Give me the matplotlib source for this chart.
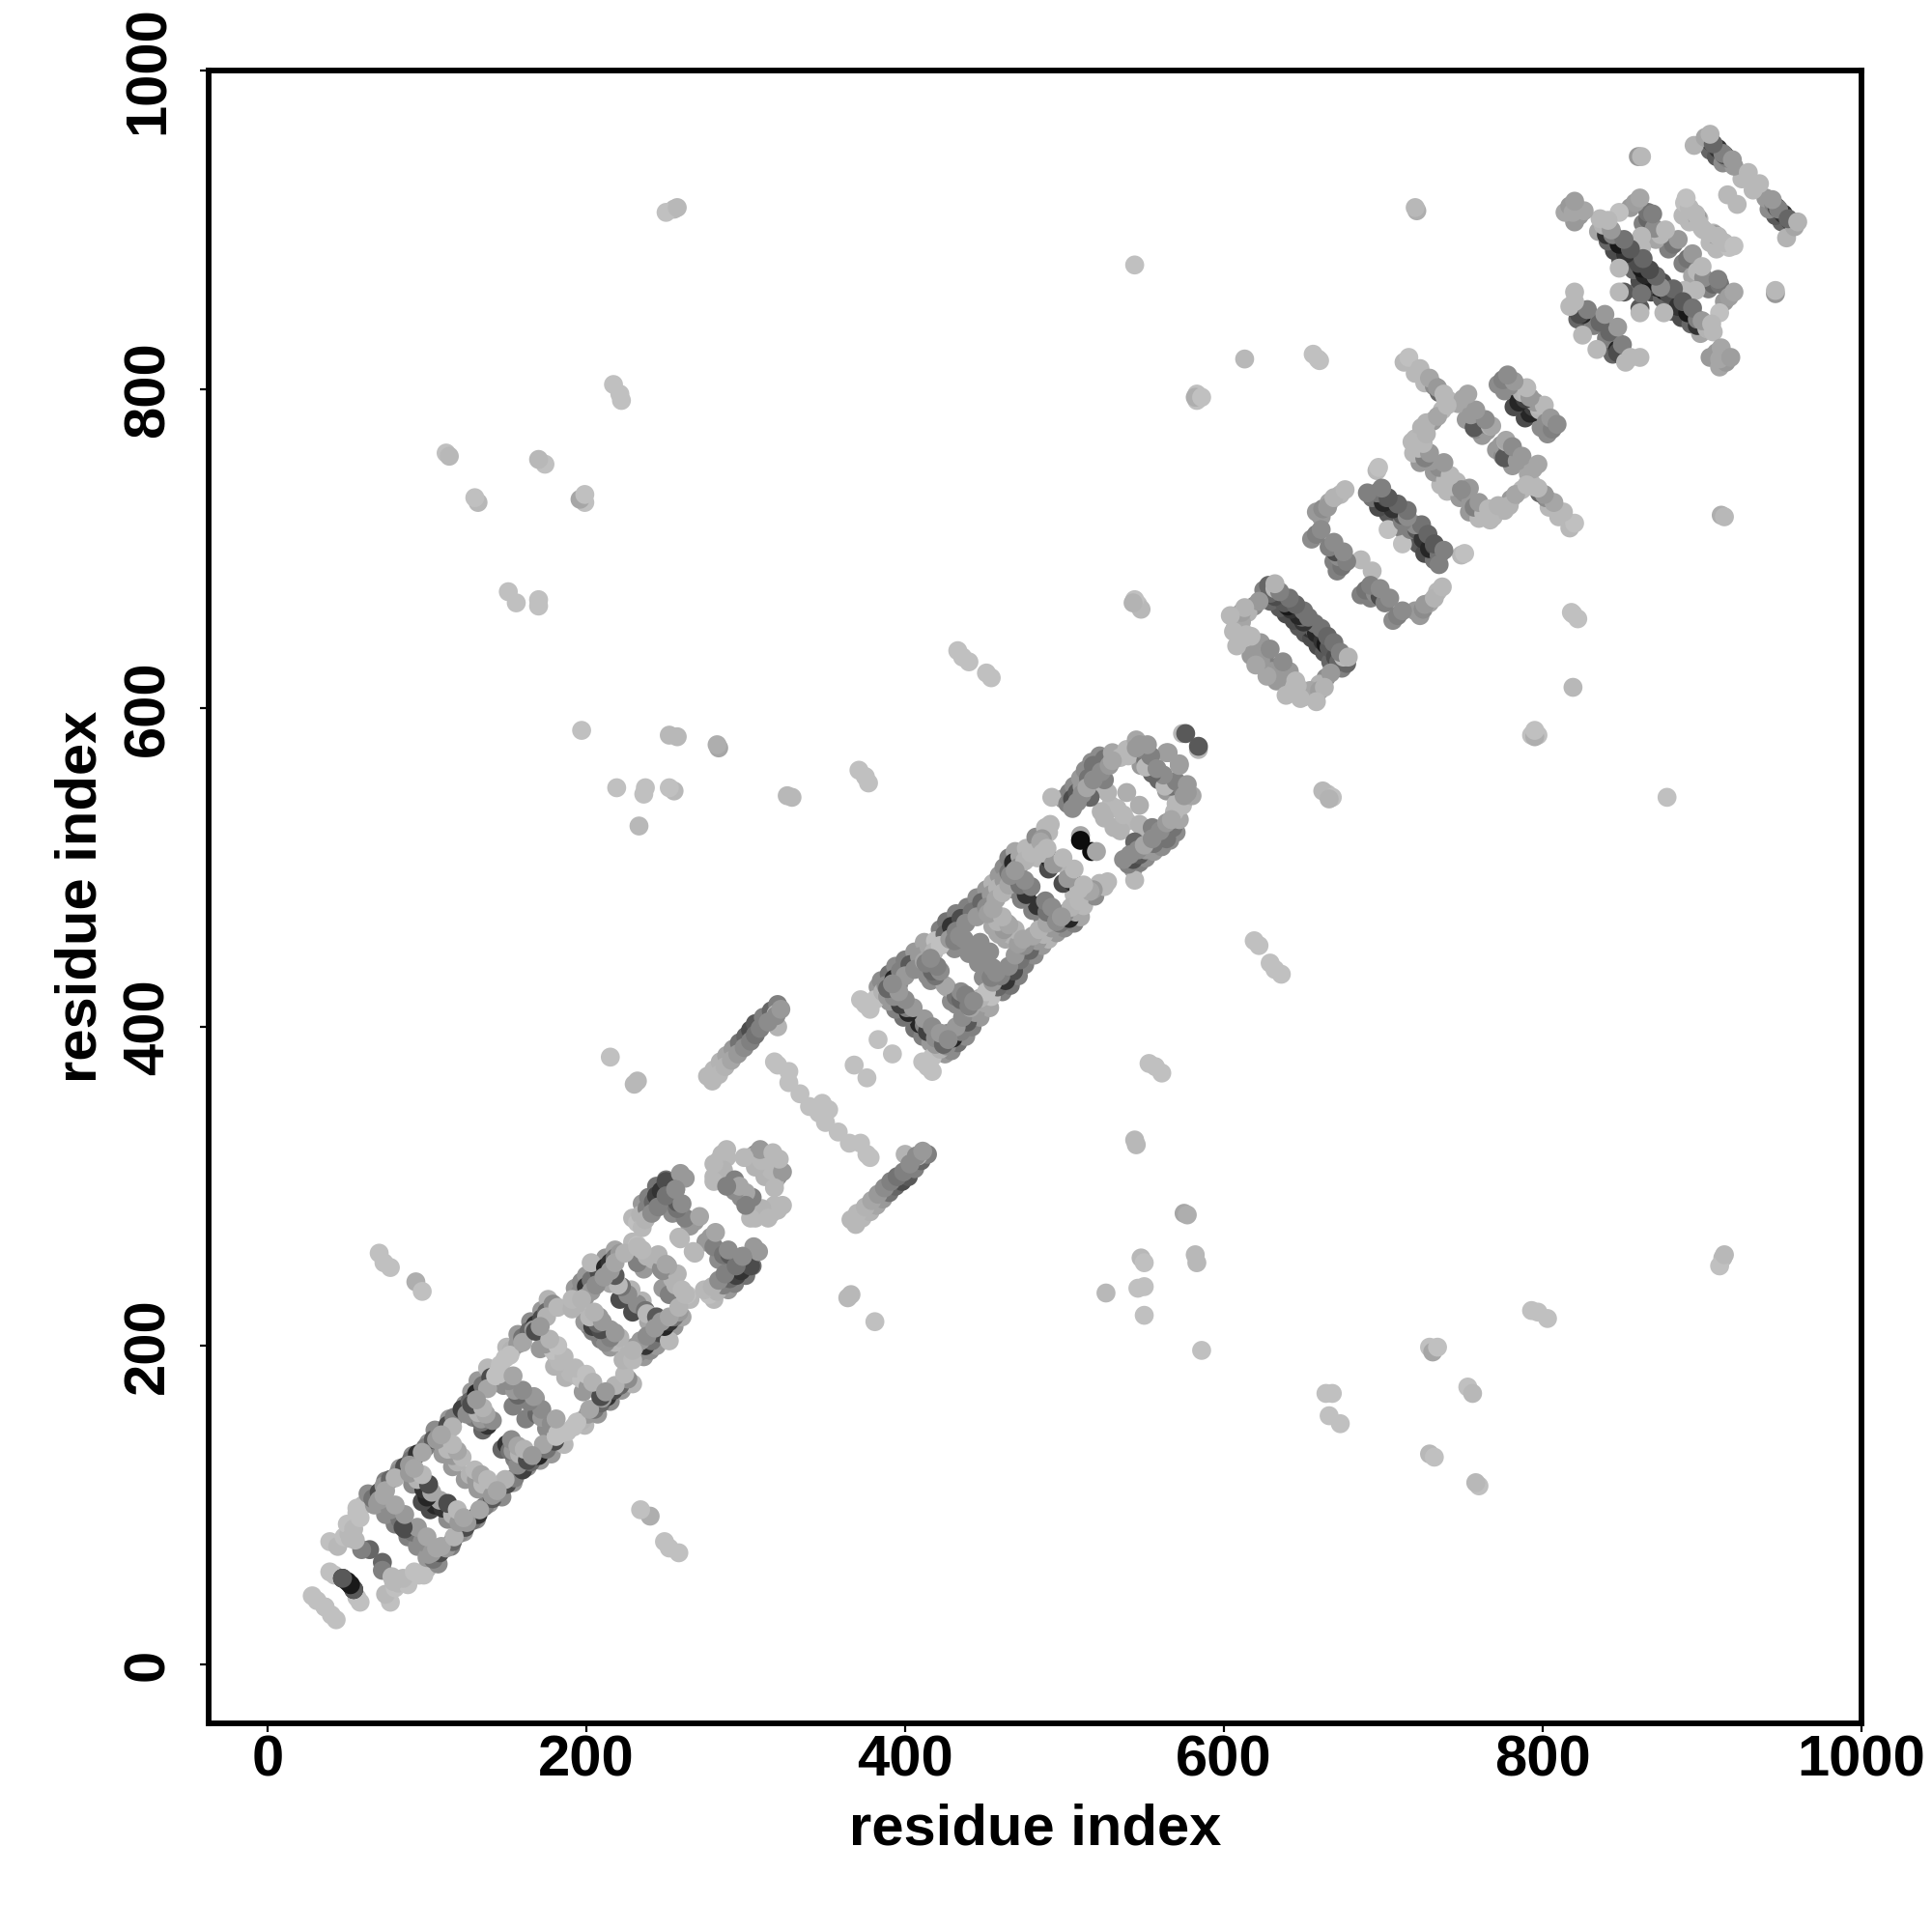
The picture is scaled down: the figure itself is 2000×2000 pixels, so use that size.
import numpy as np
import matplotlib
matplotlib.use("Agg")
import matplotlib.pyplot as plt

plt.rcParams["font.family"] = ["Liberation Sans", "DejaVu Sans"]
plt.rcParams["font.weight"] = "bold"

# the map is symmetric so the other half is the same contacts swapped
start = [(40, 31, .75), (43, 28, .75), (36, 36, .75), (58, 39, .75), (56, 42, .75), (50, 52, .1),
         (54, 47, .1), (54, 47, .35), (77, 39, .75), (74, 44, .72), (80, 48, .75), (72, 64, .4),
         (72, 59, .5), (78, 55, .72), (82, 51, .72), (88, 50, .75), (95, 56, .75), (100, 60, .72),
         (79, 52, .72), (98, 56, .75), (85, 54, .72), (92, 58, .75)]
under_1 = [(107, 63, .55), (115, 74, .5), (123, 83, .6), (131, 91, .55), (139, 101, .6), (147, 105, .55),
           (154, 114, .6), (163, 124, .55), (171, 128, .6), (178, 132, .6), (186, 138, .72), (199, 150, .72),
           (207, 157, .6), (215, 165, .55), (222, 172, .6), (229, 176, .7),
           (88, 80, .5), (94, 74, .55), (100, 67, .6), (102, 97, .3), (113, 91, .55), (124, 116, .6),
           (132, 110, .6), (147, 135, .4), (155, 129, .5), (162, 154, .5), (175, 148, .55), (187, 180, .7),
           (198, 171, .6)]
rail_1 = [(104, 66, .45), (108, 70, .3), (112, 73, .6), (116, 77, .4), (120, 82, .55),
          (124, 86, .3), (128, 90, .45), (132, 94, .2), (136, 99, .5),
          (141, 104, .35), (146, 108, .55), (150, 113, .3), (155, 117, .5),
          (160, 122, .25), (165, 127, .4), (170, 131, .15), (175, 135, .45),
          (180, 140, .3), (184, 145, .75), (188, 146, .75), (192, 149, .75), (197, 153, .7),
          (201, 157, .6), (205, 160, .45), (209, 164, .4), (213, 168, .2), (217, 172, .3),
          (221, 175, .4), (226, 179, .55)]
over_1 = [(101, 69, .6), (109, 74, .65), (117, 80, .7), (125, 89, .6), (133, 97, .65), (141, 107, .6),
          (149, 116, .7), (157, 125, .55), (165, 130, .6), (173, 138, .65), (181, 143, .75), (194, 152, .75),
          (202, 160, .65), (210, 167, .6), (218, 175, .7), (224, 182, .72)]
rungs_1 = [(91, 83, .45), (86, 85, .3), (97, 77, .55), (103, 70, .6), (105, 100, .15), (110, 98, .2),
           (116, 94, .7), (120, 89, .6), (127, 119, .7), (131, 116, .6), (135, 113, .72),
           (141, 106, .6), (150, 138, .2), (152, 134, .45), (154, 134, .6), (158, 132, .7), (163, 128, .3),
           (165, 164, .5), (169, 157, .4), (172, 155, .6), (178, 151, .55), (182, 145, .75),
           (190, 183, .72), (194, 181, .72), (197, 179, .75), (201, 174, .6), (209, 168, .3)]
rungs_1_top = [(94, 86, .6), (100, 80, .65), (106, 73, .65), (108, 103, .65), (113, 101, .3), (119, 97, .72),
               (123, 92, .65), (130, 122, .72), (134, 119, .65), (138, 116, .72), (144, 109, .65),
               (153, 141, .55), (157, 137, .65), (161, 135, .7), (166, 131, .6), (168, 167, .6),
               (172, 160, .55), (181, 154, .65), (193, 186, .72), (200, 182, .75), (204, 177, .7),
               (212, 171, .6)]
block_2 = [(236, 193, .6), (240, 197, .55), (244, 200, .6), (249, 205, .6), (255, 212, .6), (260, 218, .65),
           (202, 212, .55), (209, 204, .5), (215, 199, .6), (223, 191, .7), (248, 236, .6), (252, 232, .5),
           (233, 196, .55), (237, 200, .2), (241, 203, .45), (246, 208, .3), (252, 203, .72), (249, 212, .15),
           (252, 215, .2), (255, 218, .45), (258, 221, .6), (265, 229, .72), (263, 232, .75),
           (254, 242, .7), (256, 238, .7), (248, 247, .55), (205, 215, .5), (212, 204, .25), (210, 209, .3),
           (214, 207, .4), (218, 202, .72), (226, 194, .7), (229, 191, .72), (235, 228, .7), (229, 221, .3),
           (239, 215, .65), (232, 226, .55), (237, 222, .45), (238, 220, .72), (244, 218, .35),
           (230, 199, .6), (234, 203, .6), (238, 206, .55), (243, 211, .6), (247, 215, .6), (252, 218, .65),
           (258, 224, .7), (262, 232, .72), (208, 218, .6), (215, 210, .6), (221, 205, .7), (229, 197, .7),
           (257, 245, .7), (251, 250, .65), (260, 235, .72)]
block_3 = [(280, 229, .72), (289, 235, .6), (293, 239, .5), (300, 244, .45), (304, 250, .45),
           (275, 265, .6), (283, 254, .55), (292, 250, .5),
           (277, 232, .75), (282, 234, .7), (286, 238, .5), (290, 242, .4), (294, 244, .25), (297, 247, .2),
           (301, 253, .25), (303, 250, .3), (308, 259, .6), (278, 268, .6), (280, 262, .5), (286, 257, .45),
           (290, 257, .35), (295, 253, .3), (267, 259, .72), (268, 258, .72),
           (274, 235, .72), (279, 237, .7), (283, 241, .55), (287, 245, .5), (294, 250, .45), (298, 256, .5),
           (305, 262, .6), (281, 271, .65), (289, 260, .55), (298, 256, .55)]
block_4 = [(320, 285, .72), (316, 283, .72), (318, 288, .72), (307, 283, .72), (306, 284, .6), (306, 280, .72),
           (301, 290, .35), (303, 286, .3), (297, 293, .55), (320, 306, .55), (318, 302, .7), (320, 313, .72),
           (312, 306, .7), (316, 310, .72), (323, 288, .72), (310, 286, .7), (304, 293, .5), (300, 296, .65),
           (323, 309, .6), (318, 299, .72), (314, 280, .72), (303, 280, .72), (321, 317, .72), (300, 288, .5)]
bridge = [(369, 276, .72), (373, 280, .72), (378, 284, .7), (382, 288, .65), (386, 292, .6), (390, 296, .45),
          (394, 300, .4), (398, 303, .3), (402, 306, .35), (406, 311, .5), (410, 316, .4), (414, 320, .5),
          (408, 319, .72), (400, 320, .7), (350, 340, .75), (346, 346, .75), (358, 334, .75), (352, 348, .75),
          (365, 327, .75), (372, 327, .75), (378, 318, .75), (376, 320, .75), (376, 368, .75), (392, 383, .75),
          (366, 279, .72), (370, 283, .72), (375, 287, .7), (379, 291, .65), (383, 295, .6), (387, 299, .55),
          (391, 303, .5), (395, 306, .45), (399, 309, .5), (403, 314, .55), (407, 319, .55), (411, 322, .6)]
under_5 = [(417, 372, .75), (425, 383, .6), (429, 385, .55), (433, 390, .45), (438, 394, .55), (442, 400, .5),
           (447, 406, .6), (453, 412, .65), (461, 422, .5), (466, 426, .45), (471, 432, .5), (475, 439, .5),
           (481, 445, .55), (486, 451, .6), (490, 455, .7), (495, 459, .6), (500, 462, .55), (506, 465, .5),
           (510, 469, .65), (406, 399, .45), (411, 394, .5), (416, 390, .6), (429, 416, .55), (432, 414, .55),
           (437, 410, .55), (449, 431, .55), (458, 459, .65), (463, 455, .65), (480, 473, .5), (486, 469, .5),
           (492, 463, .6), (506, 483, .72)]
rail_5 = [(414, 375, .75), (417, 381, .75), (422, 386, .7), (426, 388, .55), (430, 393, .15), (435, 397, .5),
          (439, 403, .35), (444, 409, .6), (450, 415, .65), (454, 419, .75), (458, 425, .4), (463, 429, .2),
          (468, 435, .3), (472, 442, .45), (478, 448, .4), (483, 454, .6),
          (487, 458, .7), (492, 462, .6), (497, 465, .45), (503, 468, .15), (507, 472, .65), (512, 476, .72),
          (519, 482, .55), (525, 488, .72), (527, 491, .72), (522, 490, .72), (518, 486, .6)]
over_5 = [(411, 378, .75), (419, 389, .6), (423, 391, .65), (427, 396, .55), (432, 400, .6), (436, 406, .55),
          (441, 412, .65), (447, 418, .7), (451, 422, .75), (455, 428, .6), (460, 432, .5), (465, 438, .55),
          (469, 445, .6), (475, 451, .55), (480, 457, .65), (484, 461, .7), (489, 465, .65), (494, 468, .6),
          (500, 471, .55), (504, 475, .7), (509, 479, .72), (516, 485, .65)]
rungs_5 = [(409, 402, .15), (412, 401, .5), (414, 397, .25), (419, 393, .55), (424, 389, .4), (426, 425, .65),
           (432, 419, .45), (435, 417, .4), (440, 413, .5), (452, 434, .55), (454, 431, .5), (450, 444, .55),
           (446, 440, .55), (461, 462, .6), (466, 458, .7), (471, 452, .62), (483, 476, .2), (485, 476, .2),
           (489, 472, .45), (495, 466, .55), (499, 490, .3), (503, 496, .7), (505, 491, .15), (509, 486, .72),
           (510, 520, .65), (517, 510, .05)]
rungs_5_top = [(412, 405, .6), (417, 400, .55), (422, 396, .6), (427, 392, .55), (435, 422, .55), (438, 420, .5),
               (443, 416, .55), (455, 437, .55), (457, 434, .55), (453, 447, .55), (464, 465, .65), (469, 461, .7),
               (474, 455, .65), (488, 479, .5), (492, 475, .55), (498, 469, .6), (502, 493, .6), (506, 499, .72),
               (512, 489, .72)]
head = [(543, 499, .6), (547, 503, .5), (551, 506, .55), (556, 510, .6), (561, 513, .55), (566, 517, .55),
        (570, 522, .55), (564, 548, .6), (570, 540, .72),
        (544, 492, .72), (540, 502, .5), (543, 505, .3), (547, 508, .35), (551, 511, .6),
        (556, 515, .45), (561, 520, .4), (564, 518, .45), (568, 525, .45), (572, 530, .65), (569, 535, .72),
        (574, 539, .72), (580, 545, .65), (573, 550, .3), (577, 547, .6), (572, 565, .62), (564, 572, .62),
        (584, 574, .72), (584, 576, .35), (567, 551, .45), (559, 555, .4), (574, 549, .5), (563, 551, .72),
        (547, 539, .68), (549, 525, .7), (539, 529, .72), (531, 525, .7), (547, 527, .7), (535, 523, .7),
        (533, 537, .72), (544, 516, .4), (555, 525, .5),
        (537, 505, .55), (541, 508, .55), (546, 511, .55), (550, 514, .65), (555, 518, .55), (560, 523, .55),
        (564, 528, .6), (567, 530, .65), (570, 554, .5), (562, 558, .55), (577, 552, .6), (575, 545, .6)]
block_7 = [(651, 647, .35), (655, 644, .3), (659, 639, .3), (663, 635, .35), (667, 629, .4), (674, 625, .5),
           (654, 650, .2), (657, 649, .4), (658, 647, .15), (662, 642, .2), (664, 640, .1), (666, 638, .35),
           (670, 632, .3), (672, 629, .4), (677, 628, .4), (675, 632, .72), (664, 619, .55), (660, 615, .7),
           (656, 607, .72), (650, 607, .7), (654, 611, .65), (644, 613, .72), (648, 606, .72), (646, 614, .72),
           (638, 620, .55), (634, 626, .5), (630, 623, .6), (636, 619, .6), (642, 611, .72), (660, 611, .62),
           (657, 653, .45), (661, 650, .45), (665, 645, .4), (669, 641, .45), (673, 635, .5), (678, 632, .7),
           (641, 623, .6), (637, 629, .55), (645, 617, .72), (633, 617, .6), (627, 620, .65), (639, 608, .72),
           (667, 622, .6), (663, 613, .7), (658, 604, .72)]
block_8 = [(714, 709, .5), (718, 709, .4), (722, 703, .35), (726, 697, .3), (732, 693, .45), (686, 671, .5),
           (692, 669, .5), (706, 655, .55), (720, 661, .6),
           (712, 703, .75), (717, 712, .5), (721, 712, .35), (725, 706, .2), (729, 700, .15), (732, 702, .3),
           (735, 696, .45), (735, 690, .5), (723, 658, .6), (725, 662, .55), (729, 666, .65), (734, 673, .72),
           (689, 674, .45), (695, 672, .55), (698, 670, .3), (701, 666, .5), (709, 658, .5), (693, 686, .72),
           (749, 696, .72), (720, 715, .55), (724, 715, .45), (728, 709, .4), (732, 703, .35), (738, 699, .5),
           (692, 677, .5), (698, 675, .55), (704, 669, .55), (712, 661, .55), (726, 665, .6), (732, 669, .7),
           (737, 676, .72)]
block_9 = [(771, 762, .6), (775, 758, .55), (781, 752, .6), (791, 747, .65), (740, 736, .72), (748, 732, .6),
           (754, 723, .6), (760, 719, .72), (766, 723, .72), (789, 782, .3), (799, 776, .55), (803, 772, .55),
           (795, 786, .2),
           (817, 713, .72), (810, 720, .72), (804, 726, .72), (802, 732, .55), (798, 735, .4), (794, 739, .72),
           (769, 720, .72), (776, 724, .7), (780, 731, .6), (787, 737, .72), (793, 741, .72), (774, 765, .6),
           (778, 761, .5), (776, 757, .35), (784, 755, .6), (794, 750, .65), (777, 767, .7), (743, 739, .72),
           (737, 749, .55), (751, 735, .55), (755, 730, .6), (757, 726, .5), (763, 722, .72), (767, 718, .72),
           (792, 785, .15), (794, 789, .25), (798, 787, .7), (802, 779, .55), (806, 775, .5), (797, 790, .72),
           (820, 716, .75), (813, 723, .72), (807, 729, .65), (801, 734, .6), (797, 738, .72), (777, 768, .65),
           (781, 764, .55), (787, 758, .6), (797, 753, .65), (746, 742, .72), (754, 738, .6), (760, 729, .6),
           (766, 725, .72), (772, 727, .7), (779, 727, .7), (783, 734, .65), (790, 740, .72), (795, 792, .6),
           (801, 790, .72), (805, 782, .6), (809, 778, .55)]
block_10 = [(864, 865, .3), (868, 861, .3), (875, 857, .4), (881, 849, .35), (887, 845, .3), (893, 841, .4),
            (899, 835, .65), (905, 820, .6), (911, 814, .65), (888, 879, .5), (894, 871, .65), (904, 863, .5),
            (914, 855, .6), (950, 905, .4), (946, 909, .35), (942, 913, .55), (905, 892, .72), (909, 888, .72),
            (844, 822, .4), (840, 832, .5),
            (933, 926, .72), (925, 932, .72), (940, 920, .6), (945, 916, .5), (947, 914, .3), (951, 910, .2),
            (955, 906, .2), (953, 895, .7), (958, 902, .65), (922, 916, .72), (907, 898, .72), (911, 894, .72),
            (917, 889, .75), (901, 900, .72), (908, 897, .6), (868, 868, .1), (872, 864, .15), (876, 862, .1),
            (879, 860, .3), (881, 860, .3), (885, 852, .2), (891, 848, .1), (897, 840, .2), (897, 844, .5),
            (903, 838, .7), (907, 836, .72), (909, 823, .6), (915, 817, .6), (911, 819, .65), (891, 882, .45),
            (897, 874, .72), (907, 866, .4), (911, 866, .45), (901, 870, .55), (917, 858, .62), (889, 862, .72),
            (896, 862, .72), (911, 848, .75), (847, 825, .15), (847, 823, .3), (852, 817, .72), (861, 820, .72),
            (844, 836, .55), (842, 836, .4), (834, 825, .72), (861, 851, .35), (861, 848, .72), (876, 848, .72),
            (860, 862, .45), (864, 874, .55), (946, 860, .6), (946, 862, .72),
            (871, 871, .4), (875, 867, .3), (882, 863, .4), (888, 855, .35), (894, 851, .45), (900, 843, .6),
            (906, 841, .72), (912, 826, .65), (918, 820, .62), (894, 885, .6), (900, 877, .72), (910, 869, .5),
            (920, 861, .65), (948, 913, .5), (954, 907, .4), (960, 905, .7), (944, 919, .6), (936, 929, .72),
            (910, 896, .72), (914, 892, .72), (920, 890, .75), (904, 898, .72), (850, 828, .5), (855, 820, .72),
            (847, 839, .6)]
far = [(258, 70, .75), (249, 77, .75), (240, 93, .68), (234, 97, .75), (252, 73, .75), (366, 232, .72),
       (364, 230, .72), (381, 215, .75), (526, 233, .72), (550, 237, .75), (546, 236, .75),
       (550, 219, .75), (548, 255, .72), (550, 252, .75), (553, 377, .75), (557, 375, .75), (561, 371, .75),
       (544, 329, .72), (545, 326, .72), (575, 283, .65), (577, 282, .68), (582, 257, .72), (583, 252, .72),
       (586, 197, .75), (619, 454, .75), (622, 451, .75), (629, 440, .75), (632, 436, .75),
       (636, 433, .75), (665, 546, .75), (662, 548, .72), (668, 544, .75), (664, 170, .75),
       (668, 170, .75), (666, 156, .75), (673, 151, .75), (729, 199, .75), (731, 196, .65), (734, 199, .75),
       (729, 132, .72), (732, 130, .75), (753, 174, .75), (756, 170, .72), (760, 112, .75), (758, 114, .72),
       (793, 222, .75), (797, 221, .75), (803, 217, .75), (793, 583, .75), (797, 583, .75),
       (795, 582, .68), (795, 586, .75), (819, 613, .72), (819, 659, .75), (822, 656, .75), (818, 660, .75),
       (878, 544, .75), (912, 721, .68), (914, 720, .72), (913, 255, .72), (911, 250, .75), (914, 257, .72),
       (751, 697, .75), (666, 543, .7)]

groups = [start, under_1, rail_1, over_1, rungs_1, rungs_1_top, block_2, block_3, block_4, bridge,
          under_5, rail_5, over_5, rungs_5, rungs_5_top, head, block_7, block_8, block_9, block_10, far]
contacts = np.array([c for g in groups for c in g])
res_a = np.concatenate([contacts[:, 0], contacts[:, 1]])
res_b = np.concatenate([contacts[:, 1], contacts[:, 0]])
shade = np.concatenate([contacts[:, 2], contacts[:, 2]])

ticks = [0, 200, 400, 600, 800, 1000]

fig = plt.figure(figsize=(10, 10), dpi=200)
ax = fig.add_axes([0.108, 0.108, 0.8555, 0.8555])
ax.scatter(res_a, res_b, c=shade, cmap="gray", vmin=0, vmax=1, s=50, linewidths=0)

ax.set_xlim(-37, 1000)
ax.set_ylim(-37, 1000)
ax.set_xticks(ticks)
ax.set_yticks(ticks)
ax.tick_params(axis="x", labelsize=21.5, length=3.2, width=0.8, pad=1)
ax.tick_params(axis="y", labelsize=21.5, length=3.2, width=0.8, pad=9.3, labelrotation=90)
for lab in ax.get_yticklabels():
    lab.set_va("center")
for s in ax.spines.values():
    s.set_linewidth(2.1)

ax.set_xlabel("residue index", fontsize=21.5, fontweight="bold", labelpad=5.8)
ax.set_ylabel("residue index", fontsize=21.5, fontweight="bold", labelpad=5.2)

fig.savefig("out.png", dpi=200)
